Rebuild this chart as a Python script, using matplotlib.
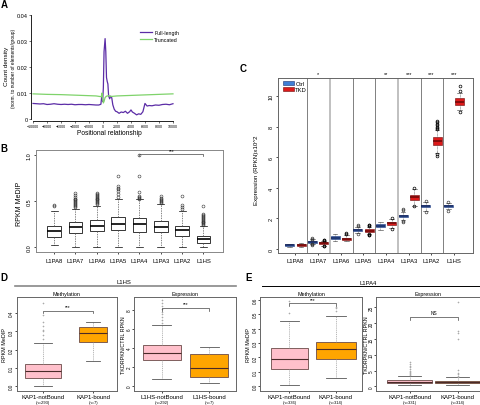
import numpy as np
import matplotlib
matplotlib.use("Agg")
import matplotlib.pyplot as plt
from matplotlib.lines import Line2D
from matplotlib.patches import Patch

plt.rcParams["font.family"] = ["Liberation Sans", "DejaVu Sans"]

# ---- panel A: density profile
full_x = [-10000, -9500, -9000, -8500, -8000, -7500, -7000, -6500, -6000, -5500,
          -5000, -4500, -4000, -3500, -3000, -2500, -2000, -1500, -1000, -600,
          -300, -150, -50, 50, 150, 300, 400, 500, 600, 700,
          800, 950, 1100, 1250, 1400, 1600, 1800, 2000, 2300, 2600,
          2900, 3200, 3500, 3800, 4000, 4200, 4500, 4800, 5100, 5400,
          5700, 6000, 6300, 6600, 7000, 7500, 8000, 8500, 9000, 9500, 10000]
full_y = [0.0060, 0.0059, 0.0058, 0.0059, 0.0056, 0.0057, 0.0059, 0.0057, 0.0056, 0.0057,
          0.0056, 0.0057, 0.0055, 0.0056, 0.0056, 0.0055, 0.0056, 0.0055, 0.0054, 0.0054,
          0.0057, 0.0095, 0.0068, 0.0120, 0.0260, 0.0310, 0.0260, 0.0160, 0.0145, 0.0135,
          0.0090, 0.0078, 0.0088, 0.0082, 0.0055, 0.0038, 0.0030, 0.0028, 0.0022, 0.0027,
          0.0025, 0.0030, 0.0022, 0.0028, 0.0035, 0.0027, 0.0022, 0.0016, 0.0020, 0.0018,
          0.0028, 0.0060, 0.0050, 0.0052, 0.0051, 0.0054, 0.0053, 0.0056, 0.0057, 0.0055, 0.0059]
trunc_x = [-10000, -8000, -6000, -4000, -2000, -1000, -500, -250, -150, -50,
           50, 150, 300, 500, 800, 1200, 2000, 4000, 6000, 8000, 10000]
trunc_y = [0.0097, 0.0095, 0.0094, 0.0092, 0.0090, 0.0089, 0.0087, 0.0086, 0.0100, 0.0075,
           0.0062, 0.0068, 0.0083, 0.0088, 0.0090, 0.0087, 0.0089, 0.0091, 0.0093, 0.0095, 0.0097]

# ---- panel B: MeDIP per family
families = ["L1PA8", "L1PA7", "L1PA6", "L1PA5", "L1PA4", "L1PA3", "L1PA2", "L1HS"]
b_med = [0.18, 0.217, 0.235, 0.25, 0.25, 0.225, 0.188, 0.09]
b_q1 = [0.116, 0.156, 0.174, 0.188, 0.167, 0.163, 0.127, 0.043]
b_q3 = [0.236, 0.27, 0.293, 0.326, 0.315, 0.283, 0.236, 0.127]
b_lo = [0.03, 0.0, 0.0, 0.0, 0.0, 0.0, 0.0, 0.0]
b_hi = [0.40, 0.42, 0.45, 0.53, 0.52, 0.47, 0.40, 0.23]
b_fliers = [
    [0.445, 0.46],
    [0.44, 0.45, 0.46, 0.47, 0.48, 0.49, 0.50, 0.51, 0.52, 0.53, 0.55, 0.57, 0.59],
    [0.47, 0.48, 0.49, 0.50, 0.51, 0.52, 0.53, 0.54, 0.55, 0.56, 0.57, 0.58, 0.59],
    [0.55, 0.58, 0.61, 0.63, 0.65, 0.67, 0.78],
    [0.53, 0.54, 0.55, 0.56, 0.60, 0.78, 1.0],
    [0.48, 0.49, 0.50, 0.51, 0.52, 0.54, 0.56],
    [0.42, 0.44, 0.46, 0.56],
    [0.24, 0.25, 0.26, 0.27, 0.28, 0.29, 0.30, 0.31, 0.32, 0.33, 0.34, 0.35, 0.36, 0.45],
]

# ---- panel C: expression Ctrl vs TKD
ctrl_med = [0.26, 0.48, 0.72, 1.24, 1.53, 2.16, 2.8, 2.8]
ctrl_q1 = [0.2, 0.42, 0.64, 1.18, 1.42, 2.08, 2.72, 2.72]
ctrl_q3 = [0.31, 0.54, 0.84, 1.32, 1.62, 2.25, 2.9, 2.9]
ctrl_lo = [0.15, 0.3, 0.5, 1.05, 1.25, 1.9, 2.5, 2.6]
ctrl_hi = [0.35, 0.65, 1.0, 1.45, 1.8, 2.45, 3.05, 3.0]
ctrl_fliers = [[], [0.28, 0.3, 0.32, 0.62, 0.66, 0.7], [], [1.0, 1.5, 1.55], [],
               [1.8, 1.85, 2.55, 2.62], [2.4, 3.15], [2.5, 3.1]]
tkd_med = [0.26, 0.37, 0.65, 1.2, 1.70, 3.38, 7.05, 9.65]
tkd_q1 = [0.2, 0.3, 0.58, 1.12, 1.58, 3.22, 6.8, 9.45]
tkd_q3 = [0.33, 0.44, 0.74, 1.28, 1.8, 3.52, 7.35, 9.88]
tkd_lo = [0.15, 0.22, 0.5, 1.0, 1.4, 2.85, 6.3, 9.1]
tkd_hi = [0.38, 0.55, 0.95, 1.45, 1.95, 3.9, 7.8, 10.2]
tkd_fliers = [[], [0.18, 0.2, 0.55, 0.58, 0.62], [1.0, 1.05], [0.9, 0.95, 1.0, 1.5, 1.55, 1.6],
              [1.3, 2.05], [2.8, 4.0], [6.1, 6.2, 7.85, 7.9, 8.0, 8.1, 8.2, 8.3, 8.4],
              [8.95, 10.35, 10.7]]
c_stars = ["", "*", "", "", "**", "***", "***", "***"]

# ---- panels D / E: KAP1 bound vs not bound
d_meth_names = ["KAP1-notBound", "KAP1-bound"]
d_meth_n = ["(n=293)", "(n=7)"]
d_meth_med = [0.082, 0.29]
d_meth_q1 = [0.044, 0.24]
d_meth_q3 = [0.122, 0.322]
d_meth_lo = [0.0, 0.14]
d_meth_hi = [0.235, 0.353]
d_meth_fliers = [[0.26, 0.28, 0.30, 0.31, 0.33, 0.35, 0.39, 0.455], []]

d_expr_names = ["L1HS-notBound", "L1HS-bound"]
d_expr_n = ["(n=292)", "(n=7)"]
d_expr_med = [3.4, 1.85]
d_expr_q1 = [2.7, 0.9]
d_expr_q3 = [4.3, 3.3]
d_expr_lo = [0.7, 0.25]
d_expr_hi = [6.4, 4.1]
d_expr_fliers = [[6.6, 6.9, 7.2, 7.5, 7.8, 8.1, 8.4, 8.7, 9.0], []]

e_meth_names = ["KAP1-notBound", "KAP1-bound"]
e_meth_n = ["(n=336)", "(n=314)"]
e_meth_med = [0.187, 0.256]
e_meth_q1 = [0.12, 0.19]
e_meth_q3 = [0.263, 0.31]
e_meth_lo = [0.012, 0.055]
e_meth_hi = [0.455, 0.49]
e_meth_fliers = [[0.508, 0.594], [0.52, 0.54, 0.55]]

e_expr_names = ["KAP1-notBound", "KAP1-bound"]
e_expr_n = ["(n=331)", "(n=314)"]
e_expr_med = [1.4, 1.3]
e_expr_q1 = [1.0, 0.9]
e_expr_q3 = [2.0, 1.8]
e_expr_lo = [0.3, 0.3]
e_expr_hi = [3.2, 2.8]
e_expr_fliers = [[3.5, 3.8, 4.1, 4.5, 5.0, 5.5, 6.0, 6.5, 7.2, 7.8],
                 [3.1, 3.4, 3.8, 4.3, 5.3, 15.0, 17.0, 17.5, 26.8]]

W, H = 481, 406
fig = plt.figure(figsize=(W / 100, H / 100), dpi=100)


def px_axes(l, t, r, b):
    return fig.add_axes([l / W, 1 - b / H, (r - l) / W, (b - t) / H])


def fig_text(x, y, s, **kw):
    fig.text(x / W, 1 - y / H, s, **kw)


def box_stats(med, q1, q3, lo, hi, fliers):
    return [dict(med=m, q1=a, q3=b, whislo=c, whishi=d, fliers=f)
            for m, a, b, c, d, f in zip(med, q1, q3, lo, hi, fliers)]


def frame(ax, color="#666666"):
    for sp in ax.spines.values():
        sp.set_color(color)
        sp.set_linewidth(0.7)
    ax.tick_params(length=1.5, width=0.5, colors="black")


def bracket(ax, x0, x1, y, drop, mark, color="#444444", size=3.5):
    ax.plot([x0, x0, x1, x1], [y - drop, y, y, y - drop], color=color, lw=0.5, clip_on=False)
    ax.text((x0 + x1) / 2, y + drop * 0.6, mark, ha="center", va="bottom", fontsize=size)


# ---------------- A
axA = px_axes(31, 16, 175, 121.7)
axA.plot(full_x, full_y, color="#5b2ca6", lw=0.9, label="Full-length")
axA.plot(trunc_x, trunc_y, color="#7fd36b", lw=0.9, label="Truncated")
axA.set_xlim(-10290, 10290)
axA.set_ylim(-0.00065, 0.0401)
axA.spines["top"].set_visible(False)
axA.spines["right"].set_visible(False)
axA.spines["left"].set_bounds(0, 0.04)
axA.spines["bottom"].set_bounds(-10000, 10000)
for sp in ("left", "bottom"):
    axA.spines[sp].set_linewidth(0.6)
axA.set_xticks(np.arange(-10000, 10001, 2000))
axA.set_yticks([0, 0.01, 0.02, 0.03, 0.04])
axA.set_yticklabels(["0", "0.01", "0.02", "0.03", "0.04"])
axA.tick_params(axis="x", labelsize=2.6, length=1.2, width=0.4, pad=1.2)
axA.tick_params(axis="y", labelsize=4, length=1.5, width=0.4, pad=1)
axA.legend(loc="upper left", bbox_to_anchor=(0.757, 0.86), frameon=False, fontsize=3.8,
           handlelength=2.3, handletextpad=0.4, labelspacing=0.35, borderpad=0, borderaxespad=0)
fig_text(109, 134, "Positional relationship", fontsize=4.8, ha="center", va="center")
fig_text(6.5, 66, "Count density", fontsize=4.6, rotation=90, ha="center", va="center")
fig_text(14, 68, "(norm. to number of elements/group)", fontsize=3.4, rotation=90,
         ha="center", va="center")

# ---------------- B
pos = np.arange(1, len(families) + 1)
axB = px_axes(36, 151, 222.7, 253.3)
axB.bxp(box_stats(b_med, b_q1, b_q3, b_lo, b_hi, b_fliers), positions=pos, widths=0.65,
        patch_artist=True, manage_ticks=False,
        boxprops=dict(facecolor="white", edgecolor="black", linewidth=0.55),
        medianprops=dict(color="black", linewidth=1.2),
        whiskerprops=dict(color="#555555", linewidth=0.5, linestyle=(0, (2, 1.5))),
        capprops=dict(color="black", linewidth=0.5),
        flierprops=dict(marker="o", markersize=2.1, markerfacecolor="none",
                        markeredgecolor="#333333", markeredgewidth=0.4))
axB.set_xlim(0.15, 8.9)
axB.set_ylim(-0.054, 1.058)
frame(axB, "#888888")
axB.set_xticks(pos)
axB.set_xticklabels(families, fontsize=4.2)
axB.set_yticks([0, 0.5, 1.0])
axB.set_yticklabels(["0.0", "0.5", "1.0"], fontsize=4, rotation=90, va="center")
axB.tick_params(axis="x", pad=2.4)
axB.tick_params(axis="y", pad=1.5)
axB.set_ylabel("RPKM MeDIP", fontsize=5, va="center")
axB.yaxis.set_label_coords(-0.091, 0.48)
bracket(axB, 5, 8, 1.01, 0.02, "***")

# ---------------- C
axC = px_axes(277.7, 79, 473.3, 254)
ctrl_style = dict(patch_artist=True, manage_ticks=False, widths=0.4,
                  boxprops=dict(facecolor="#3f7fd6", edgecolor="#1b2f6e", linewidth=0.4),
                  medianprops=dict(color="#16245a", linewidth=1.1),
                  whiskerprops=dict(color="#555555", linewidth=0.4, linestyle=(0, (1.5, 1))),
                  capprops=dict(color="#333333", linewidth=0.4),
                  flierprops=dict(marker="o", markersize=2.0, markerfacecolor="none",
                                  markeredgecolor="#333333", markeredgewidth=0.45))
tkd_style = dict(ctrl_style)
tkd_style["boxprops"] = dict(facecolor="#dd1a1a", edgecolor="#6e0a0a", linewidth=0.4)
tkd_style["medianprops"] = dict(color="#6a0808", linewidth=1.1)
tkd_style["flierprops"] = dict(marker="o", markersize=2.0, markerfacecolor="none",
                               markeredgecolor="black", markeredgewidth=0.5)
axC.bxp(box_stats(ctrl_med, ctrl_q1, ctrl_q3, ctrl_lo, ctrl_hi, ctrl_fliers),
        positions=pos - 0.25, **ctrl_style)
axC.bxp(box_stats(tkd_med, tkd_q1, tkd_q3, tkd_lo, tkd_hi, tkd_fliers),
        positions=pos + 0.25, **tkd_style)
sep_light = [False, True, False, False, True, False, False]
for i, light in zip(pos[:-1], sep_light):
    if light:
        axC.axvline(i + 0.53, color="#bbbbbb", lw=1.3, zorder=0)
    else:
        axC.axvline(i + 0.53, color="#808080", lw=0.7, zorder=0)
for i, s in zip(pos, c_stars):
    if s:
        axC.text(i, 11.5, s, ha="center", va="center", fontsize=4, clip_on=False)
axC.set_xlim(0.22, 8.85)
axC.set_ylim(-0.26, 11.2)
frame(axC, "#666666")
axC.set_xticks(pos)
axC.set_xticklabels(families, fontsize=4.2)
axC.set_yticks([0, 2, 4, 6, 8, 10])
axC.set_yticklabels(["0", "2", "4", "6", "8", "10"], fontsize=4, rotation=90, va="center")
axC.tick_params(axis="x", pad=2.4)
axC.tick_params(axis="y", pad=1.5)
axC.set_ylabel("Expression (RPKN)x10^2", fontsize=4.4, va="center")
axC.yaxis.set_label_coords(-0.107, 0.48)
axC.legend(handles=[Patch(facecolor="#3f7fd6", edgecolor="#1b2f6e", lw=0.4, label="Ctrl"),
                    Patch(facecolor="#dd1a1a", edgecolor="#6e0a0a", lw=0.4, label="TKD")],
           loc="upper left", bbox_to_anchor=(0.026, 0.985), frameon=False, fontsize=4.2,
           handlelength=1.9, handleheight=0.75, handletextpad=0.25, labelspacing=0.2,
           borderpad=0, borderaxespad=0)


# ---------------- D / E
def pair_panel(rect, stats, widths, xlim, ylim, yticks, ytl, names, ns,
               b_y, b_drop, mark, ylabel, ylab_x, title):
    ax = px_axes(*rect)
    ax.bxp(stats, positions=[1, 2], widths=widths, patch_artist=True, manage_ticks=False,
           boxprops=dict(edgecolor="#6a4a48", linewidth=0.6),
           medianprops=dict(color="#4a2a28", linewidth=0.8),
           whiskerprops=dict(color="#999999", linewidth=0.5, linestyle=(0, (1.5, 1.2))),
           capprops=dict(color="#555555", linewidth=0.6),
           flierprops=dict(marker="+", markersize=1.8, markeredgecolor="#aaaaaa",
                           markeredgewidth=0.4))
    for patch, col in zip(ax.patches, ["#ffc0cb", "#ffa500"]):
        patch.set_facecolor(col)
    ax.set_xlim(*xlim)
    ax.set_ylim(*ylim)
    frame(ax, "#666666")
    ax.set_xticks([1, 2])
    ax.set_xticklabels(names, fontsize=4.3)
    ax.tick_params(axis="x", pad=0.8)
    for x, n in zip([1, 2], ns):
        ax.annotate(n, xy=(x, 0), xycoords=ax.get_xaxis_transform(), xytext=(0, -8.4),
                    textcoords="offset points", ha="center", va="center", fontsize=3)
    ax.set_yticks(yticks)
    ax.set_yticklabels(ytl, fontsize=3.3, rotation=90, va="center")
    ax.tick_params(axis="y", pad=0.6, length=1.2)
    ax.set_ylabel(ylabel, fontsize=3.9, va="center")
    ax.yaxis.set_label_coords(ylab_x, 0.5)
    ax.set_title(title, fontsize=3.9, pad=1.8)
    bracket(ax, 1, 2, b_y, b_drop, mark, size=3.4)
    return ax


pair_panel((16.7, 298.3, 116.7, 391.7),
           box_stats(d_meth_med, d_meth_q1, d_meth_q3, d_meth_lo, d_meth_hi, d_meth_fliers),
           [0.72, 0.56], (0.48, 2.47), (-0.024, 0.486),
           [0, 0.1, 0.2, 0.3, 0.4], ["0.0", "0.1", "0.2", "0.3", "0.4"],
           d_meth_names, d_meth_n, 0.413, 0.015, "***", "RPKM MeDIP", -0.125, "Methylation")
pair_panel((134, 298.3, 236.5, 391.7),
           box_stats(d_expr_med, d_expr_q1, d_expr_q3, d_expr_lo, d_expr_hi, d_expr_fliers),
           [0.8, 0.8], (0.42, 2.575), (-0.53, 9.3),
           [0, 2, 4, 6, 8], ["0", "2", "4", "6", "8"],
           d_expr_names, d_expr_n, 8.2, 0.3, "***", "TKDRPKN/CTRL RPKN", -0.1, "Expression")
pair_panel((260, 298.3, 362, 391.7),
           box_stats(e_meth_med, e_meth_q1, e_meth_q3, e_meth_lo, e_meth_hi, e_meth_fliers),
           [0.81, 0.86], (0.366, 2.56), (-0.03, 0.617),
           [0, 0.1, 0.2, 0.3, 0.4, 0.5, 0.6], ["0.0", "0.1", "0.2", "0.3", "0.4", "0.5", "0.6"],
           e_meth_names, e_meth_n, 0.575, 0.02, "***", "RPKM MeDIP", -0.112, "Methylation")
pair_panel((376.5, 298.3, 479.5, 391.7),
           box_stats(e_expr_med, e_expr_q1, e_expr_q3, e_expr_lo, e_expr_hi, e_expr_fliers),
           [0.93, 0.93], (0.31, 2.455), (-1.4, 28.2),
           [0, 5, 10, 15, 20, 25], ["0", "5", "10", "15", "20", "25"],
           e_expr_names, e_expr_n, 22, 0.9, "NS", "TKDRPKN/CTRL RPKN", -0.098, "Expression")

# headers for D / E
fig.add_artist(Line2D([15 / W, 236 / W], [1 - 287.3 / H] * 2, color="#888888", lw=1.2))
fig.add_artist(Line2D([261.7 / W, 480 / W], [1 - 287.3 / H] * 2, color="black", lw=0.7))
fig_text(124, 283, "L1HS", fontsize=4.2, ha="center", va="center")
fig_text(368, 283.5, "L1PA4", fontsize=4.2, ha="center", va="center")

# panel letters
for letter, x, y in [("A", 4, 5), ("B", 4, 149), ("C", 243.5, 69.5), ("D", 4, 278), ("E", 248.5, 278)]:
    fig_text(x, y, letter, fontsize=7, fontweight="bold", ha="center", va="center")

fig.savefig("out.png", dpi=100)
